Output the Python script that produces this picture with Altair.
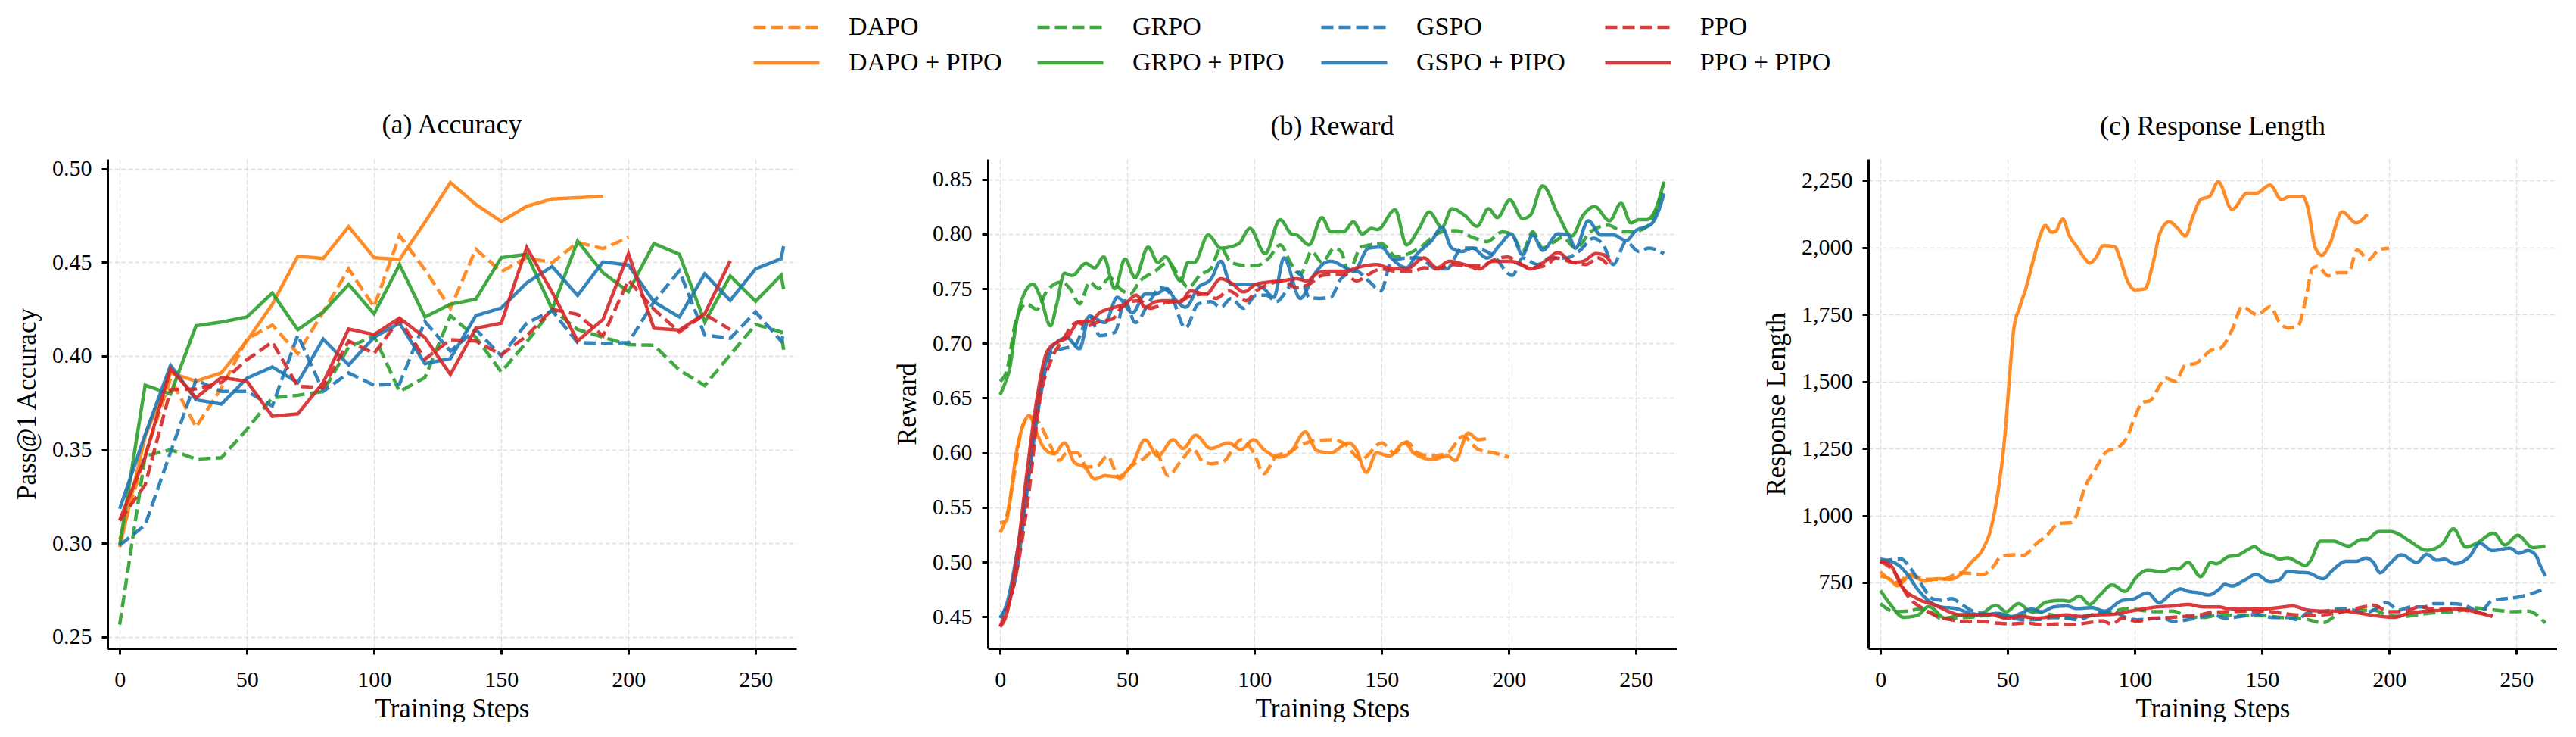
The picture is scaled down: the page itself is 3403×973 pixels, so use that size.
import altair as alt
import pandas as pd

FONT = "Liberation Serif"

# Legend order (row-major in a 4-column legend) and styling per series
SERIES = ["DAPO", "GRPO", "GSPO", "PPO",
          "DAPO + PIPO", "GRPO + PIPO", "GSPO + PIPO", "PPO + PIPO"]
COLORS = ["#ff7f0e", "#2ca02c", "#1f77b4", "#d62728"] * 2
DASHES = [[16, 7]] * 4 + [[1, 0]] * 4
# Drawing order: each baseline followed by its PIPO variant
DRAW_ORDER = ["DAPO", "DAPO + PIPO", "GRPO", "GRPO + PIPO",
              "GSPO", "GSPO + PIPO", "PPO", "PPO + PIPO"]

# ---------------- (a) Accuracy: evaluated every 10 steps ----------------
ACC_STEPS = list(range(0, 261, 10)) + [261]

ACC_DAPO = [0.302, 0.347, 0.388, 0.362, 0.383, 0.409, 0.4165, 0.4013, 0.4235, 0.4465,
            0.4262, 0.4643, 0.446, 0.4254, 0.457, 0.445, 0.4525, 0.4498, 0.4606, 0.4573, 0.4633]
ACC_DAPO_PIPO = [0.298, 0.357, 0.391, 0.3865, 0.391, 0.408, 0.4276, 0.4532, 0.4521, 0.469,
                 0.4525, 0.4515, 0.4714, 0.4926, 0.4809, 0.4718, 0.4799, 0.4838, 0.4845, 0.4852]
ACC_GRPO = [0.2566, 0.3466, 0.35, 0.3449, 0.3457, 0.3608, 0.3777, 0.379, 0.381, 0.4047,
            0.4107, 0.381, 0.3885, 0.4215, 0.41, 0.3915, 0.4074, 0.4249, 0.4141, 0.41,
            0.406, 0.4057, 0.3925, 0.3842, 0.4006, 0.4168, 0.4128, 0.4033]
ACC_GRPO_PIPO = [0.299, 0.3844, 0.3797, 0.4161, 0.4181, 0.4208, 0.4336, 0.414, 0.4235, 0.4381,
                 0.4225, 0.4488, 0.4208, 0.4276, 0.4303, 0.4525, 0.4543, 0.4249, 0.4613, 0.4444,
                 0.4343, 0.46, 0.4543, 0.4181, 0.4427, 0.4292, 0.4431, 0.4357]
ACC_GSPO = [0.299, 0.3097, 0.3487, 0.3871, 0.3811, 0.3811, 0.3733, 0.4111, 0.3811, 0.3909,
            0.3844, 0.3851, 0.4184, 0.4026, 0.4141, 0.40, 0.4175, 0.4242, 0.4071, 0.4067,
            0.4071, 0.4289, 0.4454, 0.4111, 0.4094, 0.4235, 0.408, 0.4114]
ACC_GSPO_PIPO = [0.3184, 0.358, 0.395, 0.3766, 0.3743, 0.3881, 0.3941, 0.3858, 0.409, 0.3952,
                 0.41, 0.4175, 0.3959, 0.3986, 0.4215, 0.4256, 0.439, 0.4478, 0.4323, 0.4502,
                 0.4485, 0.4289, 0.4208, 0.4438, 0.4296, 0.4465, 0.4519, 0.4586]
ACC_PPO = [0.312, 0.3312, 0.382, 0.3824, 0.3858, 0.398, 0.4074, 0.3838, 0.3831, 0.408,
           0.4013, 0.4195, 0.3983, 0.4087, 0.408, 0.4006, 0.4107, 0.4249, 0.4222, 0.4107,
           0.4404, 0.4249, 0.4128, 0.4222, 0.4141]
ACC_PPO_PIPO = [0.3124, 0.346, 0.3932, 0.3777, 0.3885, 0.3865, 0.3678, 0.3691, 0.3858, 0.4144,
                0.4114, 0.4202, 0.4098, 0.3901, 0.4148, 0.4175, 0.4579, 0.434, 0.408, 0.4195,
                0.4546, 0.4148, 0.4138, 0.4225, 0.4508]

# ---------------- (b) Reward: smoothed (step, reward) ----------------
REW_DAPO = [(0, 0.527), (2.5, 0.541), (5.5, 0.579), (8.4, 0.621), (11.4, 0.633), (15.4, 0.627),
            (19.3, 0.609), (23.3, 0.593), (26.3, 0.600), (30.3, 0.600), (34.2, 0.587), (38.2, 0.588),
            (42.2, 0.597), (47.1, 0.576), (51.1, 0.587), (56, 0.594), (61, 0.602), (66, 0.579),
            (71, 0.592), (75.9, 0.604), (78.9, 0.594), (82.8, 0.590), (87.8, 0.592), (94.7, 0.612),
            (99.7, 0.600), (103.7, 0.581), (108.6, 0.597), (114, 0.601), (119, 0.608), (124, 0.611),
            (130, 0.612), (135, 0.609), (142, 0.594), (150, 0.609), (155, 0.600), (160, 0.610),
            (164, 0.600), (170, 0.597), (176, 0.600), (182, 0.615), (188, 0.603), (194, 0.600),
            (200, 0.596)]
REW_DAPO_PIPO = [(0, 0.536), (2.5, 0.538), (3.5, 0.550), (6.4, 0.600), (9.4, 0.627), (11.4, 0.634),
                 (14.4, 0.618), (17.4, 0.604), (21.3, 0.599), (25.3, 0.609), (29.3, 0.591), (33.2, 0.587),
                 (37.2, 0.576), (41.2, 0.579), (46.1, 0.578), (52.1, 0.590), (57, 0.612), (62, 0.597),
                 (68, 0.612), (71.9, 0.604), (76.9, 0.616), (82.8, 0.604), (89.8, 0.609), (94.7, 0.603),
                 (99.7, 0.612), (103.7, 0.603), (109.6, 0.596), (114, 0.600), (120, 0.619), (124.5, 0.602),
                 (130, 0.600), (137, 0.609), (140, 0.603), (144, 0.582), (148, 0.600), (153, 0.597),
                 (159, 0.609), (163, 0.599), (170, 0.594), (176, 0.597), (179, 0.593), (184, 0.618),
                 (188, 0.612), (191, 0.613)]
REW_GRPO = [(0, 0.665), (2.5, 0.674), (6.4, 0.722), (10.4, 0.736), (14.4, 0.731), (18.4, 0.748),
            (21.3, 0.754), (24.3, 0.756), (27.5, 0.750), (31.3, 0.736), (35.2, 0.756), (38.7, 0.750),
            (43.2, 0.760), (47.1, 0.750), (51.1, 0.745), (55, 0.757), (61, 0.766), (66, 0.774),
            (71, 0.759), (73.9, 0.751), (78.9, 0.763), (82.8, 0.768), (86.8, 0.787), (90.8, 0.774),
            (96.7, 0.771), (100.7, 0.771), (105.7, 0.778), (110.1, 0.790), (114.6, 0.772), (118, 0.763),
            (122.5, 0.784), (126.5, 0.774), (131.5, 0.787), (134, 0.784), (137, 0.766), (142, 0.788),
            (150, 0.791), (155.8, 0.779), (164.7, 0.787), (173.7, 0.802), (179.6, 0.803), (185.6, 0.797),
            (191.5, 0.793), (197.5, 0.802), (201.4, 0.799), (205.4, 0.784), (209.4, 0.802), (213.3, 0.787),
            (217.3, 0.792), (221.3, 0.797), (226.2, 0.787), (232.2, 0.802), (239.1, 0.808), (245, 0.802),
            (249, 0.802), (255, 0.808), (261, 0.846)]
REW_GRPO_PIPO = [(0, 0.653), (2.5, 0.667), (3.5, 0.674), (6.4, 0.719), (8.9, 0.742), (12.9, 0.754),
                 (15.9, 0.742), (19.8, 0.716), (22.3, 0.736), (25.3, 0.764), (28.3, 0.762), (33.7, 0.773),
                 (37.2, 0.769), (40.7, 0.779), (45.1, 0.750), (49.1, 0.777), (53.1, 0.760), (58.2, 0.788),
                 (62, 0.774), (65, 0.779), (71, 0.757), (73.9, 0.774), (76.4, 0.774), (81.8, 0.799),
                 (86.8, 0.787), (93.8, 0.791), (98.2, 0.805), (104.2, 0.782), (110.1, 0.813), (114.6, 0.800),
                 (116.6, 0.799), (121.5, 0.790), (126.5, 0.815), (130, 0.802), (135, 0.802), (138.9, 0.811),
                 (142.4, 0.800), (145.9, 0.805), (148.4, 0.804), (155.3, 0.822), (159.8, 0.790), (164.7, 0.805),
                 (168.7, 0.820), (173.7, 0.806), (177.6, 0.823), (182.6, 0.817), (187.5, 0.807), (192, 0.823),
                 (195.5, 0.815), (200.4, 0.831), (205.4, 0.814), (208.4, 0.817), (213.3, 0.844), (219.3, 0.818),
                 (224.7, 0.798), (229.2, 0.817), (233.7, 0.825), (239.6, 0.812), (244.1, 0.828), (248, 0.810),
                 (251, 0.813), (254, 0.813), (257, 0.819), (261, 0.848)]
REW_GSPO = [(0, 0.449), (6.4, 0.490), (11.4, 0.579), (15.4, 0.645), (20.3, 0.692), (24.3, 0.695),
            (29.3, 0.698), (35.2, 0.725), (39.2, 0.707), (45.1, 0.710), (49.1, 0.739), (53.1, 0.719),
            (59, 0.739), (63, 0.751), (67, 0.745), (72.9, 0.714), (77.9, 0.736), (82.8, 0.738),
            (86.8, 0.733), (90.8, 0.741), (95.7, 0.732), (100.7, 0.744), (104.6, 0.744), (108.6, 0.738),
            (112.6, 0.748), (117.6, 0.765), (121.5, 0.742), (125.5, 0.741), (130, 0.742), (134, 0.759),
            (140, 0.766), (144.9, 0.757), (149.8, 0.748), (153.8, 0.775), (159.8, 0.778), (164.7, 0.778),
            (171.7, 0.768), (175.6, 0.768), (181.6, 0.787), (185.6, 0.787), (193.5, 0.781), (201.4, 0.762),
            (205.4, 0.778), (211.3, 0.772), (216.3, 0.778), (222.3, 0.778), (228, 0.785), (233.2, 0.796),
            (237.1, 0.790), (241.1, 0.772), (246.1, 0.793), (251, 0.784), (255, 0.787), (261, 0.782)]
REW_GSPO_PIPO = [(0, 0.449), (2.5, 0.461), (6.4, 0.505), (10.4, 0.565), (14.4, 0.639), (18.4, 0.686),
                 (22.3, 0.701), (26.3, 0.705), (31.2, 0.695), (35.2, 0.725), (38, 0.722), (41.2, 0.719),
                 (46.1, 0.742), (52.1, 0.728), (57, 0.745), (61, 0.745), (65.5, 0.750), (68.9, 0.740),
                 (72.9, 0.733), (77.9, 0.751), (83, 0.759), (86.8, 0.775), (90.8, 0.754), (95.7, 0.754),
                 (99.7, 0.754), (103.7, 0.750), (107.6, 0.742), (111.6, 0.778), (118, 0.741), (123.5, 0.763),
                 (128, 0.774), (130, 0.775), (136, 0.769), (139, 0.766), (144.9, 0.787), (149.8, 0.788),
                 (153.8, 0.778), (159.8, 0.769), (163.7, 0.781), (169.7, 0.794), (173.7, 0.806), (177.6, 0.787),
                 (181.6, 0.784), (185.6, 0.787), (191.5, 0.778), (196.5, 0.790), (200.9, 0.800), (205.4, 0.781),
                 (209.4, 0.799), (213.3, 0.785), (219.3, 0.800), (223.3, 0.799), (226.2, 0.787), (231.2, 0.812),
                 (236.2, 0.799), (241.1, 0.799), (246.1, 0.794), (250, 0.803), (256, 0.809), (259, 0.822),
                 (261, 0.837)]
REW_PPO = [(0, 0.441), (6.4, 0.490), (11.4, 0.565), (15.4, 0.645), (20.3, 0.686), (24.3, 0.702),
           (30.3, 0.719), (34.2, 0.716), (39.2, 0.720), (44.1, 0.722), (47.1, 0.731), (51.1, 0.738),
           (55, 0.739), (59, 0.732), (65, 0.737), (71, 0.739), (75.9, 0.744), (80.9, 0.745),
           (84.8, 0.741), (90, 0.748), (96.7, 0.739), (100.7, 0.748), (105.7, 0.754), (110.6, 0.757),
           (116.6, 0.751), (121.5, 0.754), (126.5, 0.762), (130, 0.763), (136, 0.763), (140, 0.757),
           (144.9, 0.763), (149.8, 0.768), (155.8, 0.766), (162.7, 0.766), (166.7, 0.769), (171.7, 0.768),
           (177.6, 0.772), (184.6, 0.771), (189.5, 0.771), (194, 0.776), (199.4, 0.779), (205.4, 0.771),
           (209.4, 0.769), (215.3, 0.772), (218.3, 0.778), (225.2, 0.774), (230.2, 0.772), (235.2, 0.778),
           (239.1, 0.771)]
REW_PPO_PIPO = [(0, 0.441), (2.5, 0.452), (6.4, 0.502), (10.4, 0.579), (14.4, 0.648), (18.4, 0.692),
                (22.3, 0.701), (26.3, 0.705), (31.2, 0.720), (35.2, 0.720), (39.2, 0.728), (45.1, 0.733),
                (49.1, 0.736), (53.6, 0.744), (57, 0.733), (61, 0.738), (65, 0.739), (71, 0.738),
                (74.9, 0.748), (80.9, 0.745), (86.8, 0.759), (91, 0.755), (95.7, 0.747), (100.7, 0.754),
                (105.7, 0.756), (110.6, 0.757), (116.6, 0.759), (120.5, 0.757), (125.5, 0.765), (130.5, 0.766),
                (136, 0.766), (140, 0.769), (147.9, 0.772), (152.8, 0.769), (159.8, 0.768), (166.7, 0.778),
                (171.7, 0.769), (176.6, 0.775), (182.6, 0.772), (188.5, 0.768), (193.5, 0.775), (199.4, 0.775),
                (203.4, 0.774), (208.4, 0.768), (214.3, 0.775), (219.3, 0.783), (225.2, 0.774), (229.2, 0.775),
                (234.2, 0.782), (237.1, 0.781), (240.1, 0.774)]

# ---------------- (c) Response length: smoothed (step, tokens) ----------------
LEN_DAPO = [(0, 790), (6.7, 750), (11.6, 780), (17.6, 762), (24.5, 762), (31.5, 786), (40.4, 780),
            (44.4, 810), (47.4, 847), (52.4, 853), (56, 850), (61.3, 895), (65.3, 925), (70.2, 970),
            (75.2, 974), (77.2, 1004), (80.2, 1101), (84.2, 1168), (89.1, 1240), (93.1, 1252),
            (97.1, 1295), (100, 1367), (103, 1422), (106, 1428), (110, 1488), (112, 1513), (115.9, 1500),
            (119.9, 1561), (123.9, 1567), (126.9, 1591), (129.9, 1616), (133.3, 1622), (138.3, 1694),
            (142.2, 1779), (148.2, 1749), (153.2, 1779), (157.1, 1718), (160.1, 1700), (164.1, 1706),
            (167.1, 1803), (170, 1924), (172, 1930), (176, 1894), (180, 1906), (184, 1906), (187.4, 1991),
            (191.9, 1955), (195.9, 1991), (199.9, 1997)]
LEN_DAPO_PIPO = [(0, 774), (3.7, 762), (6.7, 738), (11.6, 774), (17.6, 756), (22.6, 764), (27.5, 762),
                 (31.5, 780), (35.5, 823), (40.4, 877), (43.4, 950), (46.4, 1101), (48.9, 1295),
                 (50.9, 1537), (52.4, 1694), (54.8, 1779), (57.3, 1852), (60.3, 1961), (62.8, 2045),
                 (64.8, 2082), (67.3, 2057), (68.8, 2060), (71.7, 2106), (74.2, 2045), (77.2, 2003),
                 (80.2, 1961), (82.2, 1942), (84.6, 1961), (87.6, 2007), (92.1, 2003), (94.1, 1961),
                 (97.1, 1876), (100, 1842), (104, 1846), (107, 1936), (110, 2057), (113.5, 2096),
                 (117, 2070), (119.9, 2043), (122.9, 2118), (125.9, 2179), (129.4, 2191), (132.8, 2245),
                 (138.2, 2142), (144.2, 2203), (147.7, 2203), (153.2, 2233), (157.6, 2179), (161.1, 2191),
                 (166.1, 2191), (168, 2149), (171, 1998), (173.5, 1971), (176.5, 2010), (181.5, 2133),
                 (187, 2092), (191.4, 2124)]
LEN_GRPO = [(0, 671), (5.7, 641), (10.6, 643), (15, 650), (19.6, 641), (23.5, 617), (27.5, 617),
            (33.5, 619), (41.4, 627), (47, 632), (53.4, 623), (61.3, 641), (67.3, 629), (73.2, 617),
            (79.2, 623), (85.1, 631), (91.1, 641), (97.1, 653), (103, 645), (109, 641), (115, 643),
            (120.9, 623), (126.9, 619), (133.3, 629), (140, 627), (150.2, 626), (158.1, 619), (166, 615),
            (174, 600), (182, 643), (188, 645), (193.9, 647), (199.9, 626), (205.8, 623), (211.8, 631),
            (219, 638), (225.7, 641), (233.6, 655), (241.6, 647), (248.5, 641), (254.5, 643), (261.4, 599)]
LEN_GRPO_PIPO = [(0, 720), (3.7, 671), (9.1, 620), (14.6, 628), (19, 660), (25.5, 617), (31.5, 629),
                 (38.5, 629), (45.4, 665), (49.4, 641), (54.3, 671), (59.3, 641), (65.3, 677), (71.2, 683),
                 (74.2, 680), (78.2, 699), (82.2, 668), (86.1, 701), (91.1, 741), (96.1, 717), (101, 774),
                 (105, 796), (111, 790), (115, 802), (117, 800), (120.9, 825), (125.9, 772), (129.9, 825),
                 (132, 820), (137, 847), (140, 850), (144, 870), (147, 883), (150, 862), (154, 850),
                 (157, 838), (160, 842), (164, 826), (167, 813), (169, 830), (173, 904), (178, 904),
                 (184, 886), (189, 910), (191, 910), (195.9, 940), (200.8, 940), (203.8, 930), (207.8, 906),
                 (214.8, 870), (220.7, 892), (225.2, 950), (230.2, 882), (234.6, 898), (241.1, 934),
                 (245.5, 890), (250.5, 926), (256.5, 880), (261.4, 886)]
LEN_GSPO = [(0, 827), (8.1, 838), (11.6, 805), (15.6, 750), (20.6, 689), (24.5, 683), (28, 690),
            (31.5, 671), (35.5, 647), (43.4, 629), (51.4, 617), (56.3, 611), (62, 612), (67.3, 619),
            (73.2, 617), (77.2, 611), (85.1, 635), (91.1, 641), (97.1, 617), (101, 611), (111, 617),
            (115, 605), (120.9, 611), (126, 620), (130.3, 631), (135.3, 617), (141.2, 623), (148.2, 631),
            (154.1, 619), (160.1, 619), (164.1, 611), (168, 637), (172, 639), (182, 653), (186, 647),
            (189.9, 635), (193.9, 647), (198.9, 675), (203.8, 647), (208.8, 659), (213.8, 659),
            (217.7, 671), (224.7, 671), (229.7, 665), (235.6, 641), (240.6, 683), (245.5, 689),
            (250.5, 695), (255.5, 707), (261.4, 728)]
LEN_GSPO_PIPO = [(0, 837), (6.7, 817), (10.6, 780), (14.6, 725), (19.6, 677), (23.5, 659), (29.5, 653),
                 (35.5, 635), (41.4, 629), (46, 635), (51.4, 623), (55.3, 635), (59.3, 651), (63.3, 641),
                 (68.3, 659), (73.2, 662), (77.2, 653), (83.2, 656), (88.1, 643), (95.1, 683), (99.1, 687),
                 (105, 711), (109.5, 675), (115, 714), (118, 726), (120.9, 717), (125.4, 711), (128.9, 703),
                 (133.3, 726), (135.3, 743), (138.2, 737), (143.2, 759), (147.7, 780), (153.2, 752),
                 (157.1, 762), (160.1, 792), (164.1, 788), (168, 786), (174, 764), (178, 798), (183, 829),
                 (187, 829), (191, 841), (193.9, 823), (196.4, 786), (199.9, 817), (204.8, 853), (210.8, 825),
                 (214.8, 855), (218.7, 833), (221.7, 837), (225.7, 820), (231.6, 847), (235.6, 896),
                 (240.6, 869), (247.5, 878), (251, 859), (254.5, 869), (257.5, 853), (259.5, 811),
                 (261.4, 774)]
LEN_PPO = [(0, 829), (5.7, 786), (10.6, 701), (16.6, 653), (21.6, 627), (27.5, 611), (33.5, 605),
           (39.4, 605), (45.4, 599), (51.4, 595), (57.3, 599), (63.3, 593), (69.2, 595), (75.2, 593),
           (81.2, 599), (87.1, 607), (91.1, 595), (95.1, 617), (101, 605), (107, 617), (113, 619),
           (118.9, 623), (124.9, 627), (130.3, 639), (136.3, 641), (150.2, 643), (163.1, 629), (170, 627),
           (176, 631), (182, 641), (189.9, 659), (193.9, 665), (199.9, 641), (205.8, 641), (211.8, 659),
           (218, 650), (224.7, 651), (229.7, 647), (235.6, 635), (240.6, 627)]
LEN_PPO_PIPO = [(0, 829), (3.7, 817), (8.6, 732), (14.6, 689), (21.6, 665), (26.5, 643), (31.5, 629),
                (37.5, 629), (43.4, 631), (49.4, 617), (55.3, 623), (61.3, 617), (67.3, 623), (73.2, 629),
                (79.2, 623), (85.1, 629), (91.1, 631), (97.1, 641), (103, 651), (109, 659), (115, 662),
                (120.9, 668), (126.9, 659), (133, 659), (136.3, 653), (142.2, 651), (150.2, 651), (156.1, 656),
                (162.1, 662), (168, 647), (175, 643), (182, 643), (188, 636), (193.9, 627), (201.8, 620),
                (207.8, 635), (214.8, 643), (221.7, 647), (227.7, 651), (233.6, 641), (240.6, 623)]


def acc_frame():
    series_vals = {
        "DAPO": ACC_DAPO, "DAPO + PIPO": ACC_DAPO_PIPO,
        "GRPO": ACC_GRPO, "GRPO + PIPO": ACC_GRPO_PIPO,
        "GSPO": ACC_GSPO, "GSPO + PIPO": ACC_GSPO_PIPO,
        "PPO": ACC_PPO, "PPO + PIPO": ACC_PPO_PIPO,
    }
    rows = []
    for name in DRAW_ORDER:
        for s, v in zip(ACC_STEPS, series_vals[name]):
            rows.append({"series": name, "step": s, "value": v})
    return pd.DataFrame(rows)


def pair_frame(series_pairs):
    rows = []
    for name in DRAW_ORDER:
        for s, v in series_pairs[name]:
            rows.append({"series": name, "step": s, "value": v})
    return pd.DataFrame(rows)


reward_df = pair_frame({
    "DAPO": REW_DAPO, "DAPO + PIPO": REW_DAPO_PIPO,
    "GRPO": REW_GRPO, "GRPO + PIPO": REW_GRPO_PIPO,
    "GSPO": REW_GSPO, "GSPO + PIPO": REW_GSPO_PIPO,
    "PPO": REW_PPO, "PPO + PIPO": REW_PPO_PIPO,
})
length_df = pair_frame({
    "DAPO": LEN_DAPO, "DAPO + PIPO": LEN_DAPO_PIPO,
    "GRPO": LEN_GRPO, "GRPO + PIPO": LEN_GRPO_PIPO,
    "GSPO": LEN_GSPO, "GSPO + PIPO": LEN_GSPO_PIPO,
    "PPO": LEN_PPO, "PPO + PIPO": LEN_PPO_PIPO,
})

PLOT_W = 910
PLOT_H = 646
LEFT_EXTENT = 142

# Long horizontal legend stroke drawn from a short unit box (keeps rows compact)
LEGEND_SYMBOL = "M-3,0H3"

legend = alt.Legend(
    title=None, orient="none", direction="horizontal", columns=4, gridAlign="all",
    legendX=880, legendY=-191,
    symbolType=LEGEND_SYMBOL, symbolSize=841, symbolStrokeWidth=4.5,
    labelFont=FONT, labelFontSize=34, labelColor="black", labelOffset=65, labelLimit=500,
    columnPadding=37, rowPadding=13, padding=0,
)


def panel(df, title, ytitle, ydomain, yticks, yfmt, interp):
    x = alt.X("step:Q",
              scale=alt.Scale(domain=[-4.8, 266], nice=False, zero=False),
              axis=alt.Axis(values=[0, 50, 100, 150, 200, 250], format="d",
                            title="Training Steps"))
    y = alt.Y("value:Q",
              scale=alt.Scale(domain=ydomain, nice=False, zero=False),
              axis=alt.Axis(values=yticks, format=yfmt, title=ytitle))
    lines = alt.Chart(df).mark_line(strokeWidth=4.5, opacity=0.9, interpolate=interp).encode(
        x=x, y=y,
        color=alt.Color("series:N", scale=alt.Scale(domain=SERIES, range=COLORS), legend=legend),
        strokeDash=alt.StrokeDash("series:N", scale=alt.Scale(domain=SERIES, range=DASHES),
                                  legend=legend),
    )
    # keeps every panel's left extent identical so the three plots line up evenly
    spacer = alt.Chart(alt.Data(values=[{"k": 0}])).mark_rule(strokeOpacity=0).encode(
        x=alt.value(-LEFT_EXTENT), y=alt.value(300), y2=alt.value(302)
    )
    return alt.layer(lines, spacer).properties(
        width=PLOT_W, height=PLOT_H,
        title=alt.TitleParams(title, font=FONT, fontSize=36, fontWeight="normal",
                              color="black", anchor="middle", baseline="alphabetic", offset=-4),
    )


pa = panel(acc_frame(), "(a) Accuracy", "Pass@1 Accuracy", [0.2439, 0.5051],
           [0.25, 0.30, 0.35, 0.40, 0.45, 0.50], ".2f", "linear")
pb = panel(reward_df, "(b) Reward", "Reward", [0.4212, 0.8684],
           [0.45, 0.50, 0.55, 0.60, 0.65, 0.70, 0.75, 0.80, 0.85], ".2f", "monotone")
pc = panel(length_df, "(c) Response Length", "Response Length", [504, 2330],
           [750, 1000, 1250, 1500, 1750, 2000, 2250], ",.0f", "monotone")

chart = alt.hconcat(pa, pb, pc, spacing=111).resolve_scale(
    color="shared", strokeDash="shared"
).properties(
    padding={"left": 0, "top": 19, "right": 0, "bottom": 0},
    background="white",
).configure_view(stroke=None).configure_axis(
    domainColor="black", domainWidth=3,
    tickColor="black", tickWidth=3, tickSize=8,
    labelFont=FONT, labelFontSize=30, labelColor="black",
    titleFont=FONT, titleFontSize=35, titleFontWeight="normal", titleColor="black",
    gridColor="#dddddd", gridDash=[6, 3], gridWidth=1.3,
).configure_axisX(labelPadding=18, titlePadding=6).configure_axisY(
    labelPadding=13, titlePadding=15
)

chart.save("out.html", embed_options={"renderer": "svg", "actions": False})
